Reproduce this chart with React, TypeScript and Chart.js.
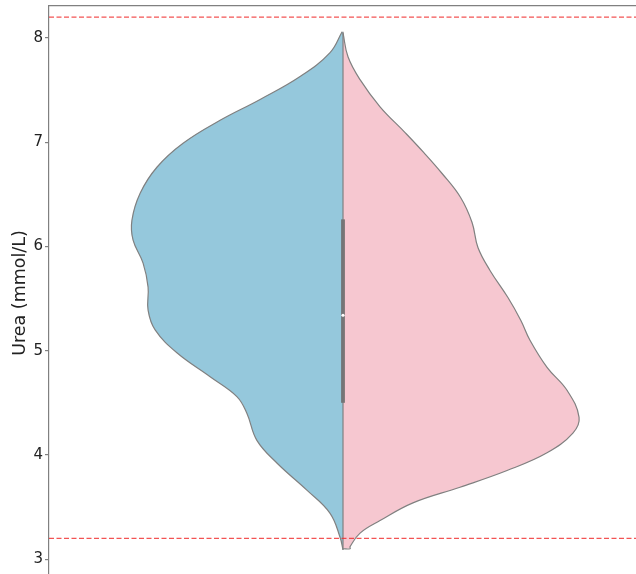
import React, { useEffect, useRef } from 'react';
import { Chart, registerables } from 'chart.js';

Chart.register(...registerables);

// Left half (blue) of the split violin: urea values and density half-widths
const leftValues = [8.06, 7.86, 7.63, 7.41, 7.21, 6.99, 6.76, 6.51, 6.25, 6.06, 5.84, 5.61, 5.39, 5.2, 4.98, 4.75, 4.56, 4.4, 4.14, 3.92, 3.66, 3.44, 3.21, 3.09];
const leftDensity = [0.003, 0.044, 0.146, 0.282, 0.418, 0.544, 0.633, 0.69, 0.718, 0.714, 0.68, 0.663, 0.663, 0.639, 0.565, 0.452, 0.361, 0.327, 0.293, 0.224, 0.122, 0.044, 0.01, 0];

// Right half (pink)
const rightValues = [8.05, 7.82, 7.6, 7.34, 7.09, 6.9, 6.7, 6.47, 6.23, 5.99, 5.77, 5.51, 5.29, 5.1, 4.84, 4.62, 4.36, 4.21, 4.02, 3.85, 3.69, 3.54, 3.37, 3.25, 3.12, 3.1, 3.1];
const rightDensity = [0, 0.017, 0.058, 0.126, 0.212, 0.275, 0.337, 0.4, 0.439, 0.459, 0.5, 0.561, 0.605, 0.636, 0.694, 0.762, 0.803, 0.782, 0.694, 0.558, 0.398, 0.238, 0.126, 0.058, 0.024, 0.024, 0];

// Inner box summary
const boxQ1 = 4.5;
const boxQ3 = 6.26;
const boxMedian = 5.34;
const whiskerLow = 3.09;
const whiskerHigh = 8.06;

// Reference lines
const refLines = [8.2, 3.2];

const yTicks = [3, 4, 5, 6, 7, 8];
const yTitle = 'Urea (mmol/L)';

const GRAY = '#808080';

export default function App() {
  const ref = useRef<HTMLCanvasElement | null>(null);

  useEffect(() => {
    if (!ref.current) return;
    const datasets: any[] = [
      {
        label: 'left',
        data: leftValues.map((v, i) => ({ x: -leftDensity[i], y: v })),
        borderColor: GRAY,
        borderWidth: 1.2,
        backgroundColor: '#95c8dc',
        fill: 'origin',
        tension: 0.4,
        pointRadius: 0,
        order: 6,
      },
      {
        label: 'right',
        data: rightValues.map((v, i) => ({ x: rightDensity[i], y: v })),
        borderColor: GRAY,
        borderWidth: 1.2,
        backgroundColor: '#f6c7d0',
        fill: 'origin',
        tension: 0.4,
        pointRadius: 0,
        order: 5,
      },
      {
        label: 'whisker',
        data: [
          { x: 0, y: whiskerLow },
          { x: 0, y: whiskerHigh },
        ],
        borderColor: GRAY,
        borderWidth: 1.2,
        fill: false,
        tension: 0,
        pointRadius: 0,
        order: 4,
      },
      {
        label: 'box',
        data: [
          { x: 0, y: boxQ1 },
          { x: 0, y: boxQ3 },
        ],
        borderColor: 'rgba(110,110,110,0.85)',
        borderWidth: 4,
        borderCapStyle: 'butt',
        fill: false,
        tension: 0,
        pointRadius: 0,
        order: 3,
      },
      {
        label: 'median',
        data: [{ x: 0, y: boxMedian }],
        showLine: false,
        pointRadius: 1.6,
        pointBackgroundColor: '#ffffff',
        pointBorderWidth: 0,
        borderWidth: 0,
        order: 2,
      },
      ...refLines.map((v) => ({
        label: 'ref' + v,
        data: [
          { x: -1, y: v },
          { x: 1, y: v },
        ],
        borderColor: 'rgba(240,40,40,0.8)',
        borderWidth: 1.2,
        borderDash: [5, 2.5],
        fill: false,
        tension: 0,
        pointRadius: 0,
        order: 1,
      })),
    ];

    const chart = new Chart(ref.current, {
      type: 'line',
      data: { datasets },
      options: {
        responsive: false,
        animation: false,
        indexAxis: 'y',
        layout: { padding: { left: 0, right: 63, top: 6, bottom: 20 } },
        plugins: {
          legend: { display: false },
          tooltip: { enabled: false },
        },
        scales: {
          x: {
            type: 'linear',
            position: 'top',
            min: -1,
            max: 1,
            ticks: { display: false },
            grid: { display: false, drawTicks: false },
            border: { display: true, color: GRAY, width: 1.2 },
            afterFit: (s: any) => {
              s.height = 0;
              s.paddingLeft = 0;
              s.paddingRight = 0;
            },
          },
          y: {
            type: 'linear',
            position: 'left',
            min: 2.8,
            max: 8.307,
            afterBuildTicks: (s: any) => {
              s.ticks = yTicks.map((v) => ({ value: v }));
            },
            afterFit: (s: any) => {
              s.width = 49;
              s.paddingTop = 0;
              s.paddingBottom = 0;
            },
            ticks: {
              color: '#222222',
              padding: 2,
              font: { family: 'DejaVu Sans', size: 15 },
              callback: (v: any) => String(v),
            },
            grid: {
              display: true,
              drawOnChartArea: false,
              drawTicks: true,
              tickLength: 4,
              color: GRAY,
              lineWidth: 1.2,
            },
            border: { display: true, color: GRAY, width: 1.2 },
            title: {
              display: true,
              text: yTitle,
              color: '#222222',
              font: { family: 'DejaVu Sans', size: 17.5 },
              padding: { top: 10, bottom: 0 },
            },
          },
        },
      },
    });
    return () => chart.destroy();
  }, []);

  return (
    <div
      style={{
        position: 'fixed',
        left: 0,
        top: 0,
        width: 636,
        height: 574,
        overflow: 'hidden',
        background: '#ffffff',
      }}
    >
      <canvas ref={ref} width={700} height={600} style={{ display: 'block' }} />
    </div>
  );
}
